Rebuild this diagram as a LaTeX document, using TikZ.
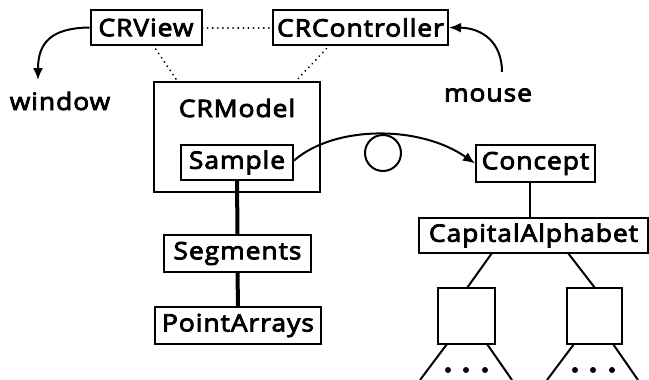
\documentclass[tikz,border=0pt]{standalone}
\usepackage{fontspec}
\newfontfamily\lblfont{Open Sans}[FakeBold=3.5, FakeStretch=1.1, LetterSpace=4]
\usetikzlibrary{arrows.meta}
\begin{document}
\begin{tikzpicture}[x=1pt,y=-1pt,
  box/.style={draw, line width=2pt, inner sep=0pt, font=\lblfont\fontsize{24}{28}\selectfont},
  txt/.style={inner sep=0pt, font=\lblfont\fontsize{24}{28}\selectfont},
  dotline/.style={line width=2pt, line cap=round, dash pattern=on 0.1pt off 5pt},
  thick line/.style={line width=4pt},
  thin/.style={line width=2pt},
  arr/.style={line width=2pt, -{Latex[length=12pt,width=10pt]}},
  dotc/.style={circle, fill, inner sep=0pt, minimum size=6pt}
]
\useasboundingbox (0,0) rectangle (649,380);
\node[box, minimum width=111pt, minimum height=35pt] (view) at (146,27.5) {CRView};
\node[box, minimum width=175pt, minimum height=35pt] (ctrl) at (360.5,27.5) {CRController};
\node[box, minimum width=166pt, minimum height=110pt] (model) at (237,137) {};
\node[txt] (modeltxt) at (237,108) {CRModel};
\node[box, minimum width=112pt, minimum height=35pt] (sample) at (237,162.5) {Sample};
\node[box, minimum width=119pt, minimum height=37pt] (concept) at (535.5,163.5) {Concept};
\node[box, minimum width=229pt, minimum height=35pt] (cap) at (533.5,235.5) {CapitalAlphabet};
\node[box, minimum width=147pt, minimum height=37pt] (seg) at (237.5,253.5) {Segments};
\node[box, minimum width=166pt, minimum height=37pt] (pa) at (238,325.5) {PointArrays};
\node[box, minimum width=57pt, minimum height=56pt] (c1) at (466.5,316) {};
\node[box, minimum width=55pt, minimum height=56pt] (c2) at (594.5,316) {};
\node[circle, draw, line width=2pt, minimum size=36pt, inner sep=0pt] (ring) at (383,153) {};
\node[txt] (window) at (60,101) {window};
\node[txt] (mouse) at (488,95) {mouse};
\coordinate (wend) at (38,80);
\coordinate (mstart) at (502,72);
\coordinate (vs) at (153,45);
\coordinate (cs) at (330,45);
% dotted links
\draw[dotline] (view.east) -- (ctrl.west);
\draw[dotline] (vs) -- (178,82);
\draw[dotline] (cs) -- (295,82);
% arrows
\draw[arr] (view.west) .. controls (52,28) and (38,42) .. (wend);
\draw[arr] (mstart) .. controls (502,42) and (482,28) .. (ctrl.east);
\draw[arr] ([yshift=2pt]sample.east) .. controls (335,125) and (420,125) .. (concept.west);
% thick links
\draw[thick line] (sample.south) -- (seg.north);
\draw[thick line] (seg.south) -- (pa.north);
% tree
\draw[thin] (concept.south -| 530,0) -- (cap.north -| 530,0);
\draw[thin] (492,253) -- (467,288);
\draw[thin] (568,253) -- (595,288);
\draw[thin] (447,344) -- (420,380);
\draw[thin] (487,344) -- (512,380);
\draw[thin] (574,344) -- (547,380);
\draw[thin] (613,344) -- (638,380);
\node[dotc] (d1) at (448,370) {};
\node[dotc] (d2) at (466,370) {};
\node[dotc] (d3) at (485,370) {};
\node[dotc] (d4) at (575,370) {};
\node[dotc] (d5) at (593,370) {};
\node[dotc] (d6) at (612,370) {};
\end{tikzpicture}
\end{document}
